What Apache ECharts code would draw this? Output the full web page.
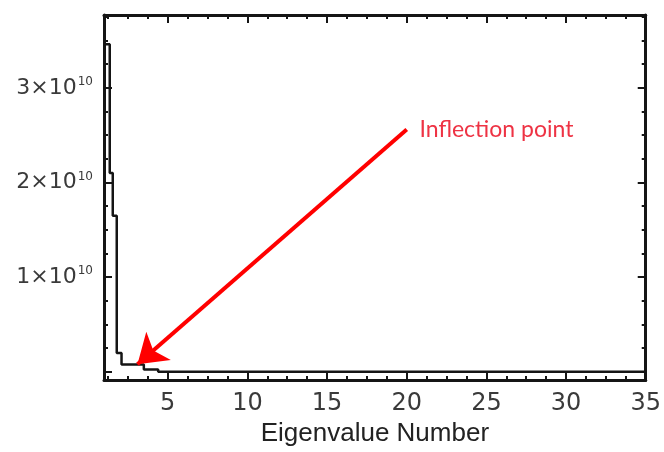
<!DOCTYPE html>
<html>
<head>
<meta charset="utf-8">
<script src="https://cdn.jsdelivr.net/npm/echarts@6/dist/echarts.min.js"></script>
<style>
    html, body { margin: 0; padding: 0; background: #fff; }
    #chart { width: 664px; height: 452px; }
</style>
</head>
<body>
<div id="chart"></div>
<script>
// eigenvalue spectrum (step plot)
const eigenNumber = [1, 1.36, 1.55, 1.8, 2.1, 3.5, 4.4, 35];
const eigenValue = [3.46e10, 2.1e10, 1.65e10, 0.2e10, 0.077e10, 0.026e10, 0.0, 0.0];

const xTicks = [5, 10, 15, 20, 25, 30, 35];
const yTicks = [1e10, 2e10, 3e10];

// annotation arrow, in data units
const arrowFrom = [20, 2.56e10];
const arrowTo = [3.1, 0.08e10];
const noteAt = [20.8, 2.56e10];
const noteText = 'Inflection point';

const ink = '#151515';
const labelInk = '#3a3a3a';

let frameAxis = (pos, show) => ({
    type: 'value',
    position: pos,
    axisLine: { onZero: false, lineStyle: { color: ink, width: 3 } },
    axisTick: { inside: true, length: 8, lineStyle: { color: ink, width: 2 } },
    minorTick: { show: true, splitNumber: 4, length: 4, lineStyle: { color: ink, width: 2 } },
    splitLine: { show: false },
    axisLabel: { show: show }
});

let xBottom = Object.assign(frameAxis('bottom', true), {
    min: 1, max: 35, splitNumber: 7,
    name: 'Eigenvalue Number',
    nameLocation: 'middle',
    nameGap: 34,
    nameTextStyle: { fontSize: 26, color: '#222', fontFamily: 'Liberation Sans' }
});
xBottom.axisLabel = {
    show: true, margin: 12, fontSize: 24, color: labelInk, fontFamily: 'DejaVu Sans',
    formatter: v => xTicks.includes(v) ? String(v) : ''
};
let xTop = Object.assign(frameAxis('top', false), { min: 1, max: 35, splitNumber: 7 });

let yLeft = Object.assign(frameAxis('left', true), { min: -0.087e10, max: 3.77e10, splitNumber: 4 });
yLeft.axisLabel = {
    show: true, margin: 11, color: labelInk, fontFamily: 'DejaVu Sans',
    formatter: v => yTicks.includes(v) ? `{m|${v / 1e10}×10}{s|10}` : '',
    rich: {
        m: { fontSize: 22, color: labelInk, fontFamily: 'DejaVu Sans' },
        s: { fontSize: 12, color: labelInk, fontFamily: 'DejaVu Sans', padding: [0, 0, 12, 1] }
    }
};
let yRight = Object.assign(frameAxis('right', false), { min: -0.087e10, max: 3.77e10, splitNumber: 4 });

let option = {
    animation: false,
    backgroundColor: '#fff',
    grid: { left: 104, right: 16, top: 15, bottom: 61 },
    xAxis: [xBottom, xTop],
    yAxis: [yLeft, yRight],
    series: [{
        type: 'line',
        step: 'end',
        symbol: 'none',
        lineStyle: { color: ink, width: 2.5 },
        data: eigenNumber.map((x, i) => [x, eigenValue[i]]),
        markLine: {
            silent: true,
            symbol: ['none', 'arrow'],
            symbolSize: 28,
            lineStyle: { color: '#f00', width: 4, type: 'solid' },
            label: { show: false },
            emphasis: { disabled: true },
            data: [[{ coord: arrowFrom }, { coord: arrowTo }]]
        },
        markPoint: {
            silent: true,
            symbol: 'circle',
            symbolSize: 0,
            label: {
                show: true, position: [0, 0], align: 'left', verticalAlign: 'middle',
                formatter: noteText, fontSize: 23, color: '#ee3344', fontFamily: 'Lato'
            },
            data: [{ coord: noteAt }]
        }
    }]
};

let myChart = echarts.init(document.getElementById('chart'));
myChart.setOption(option);
</script>
</body>
</html>
